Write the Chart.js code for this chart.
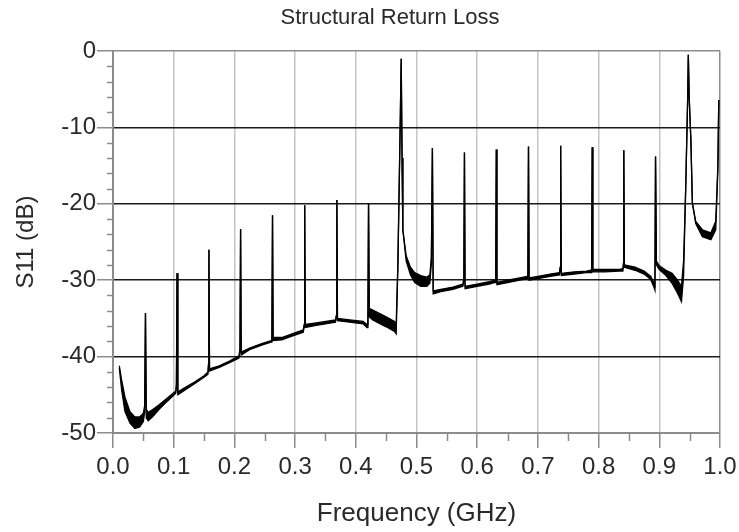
<!DOCTYPE html>
<html>
<head>
<meta charset="utf-8">
<script src="https://cdn.jsdelivr.net/npm/chart.js@4/dist/chart.umd.min.js"></script>
<style>
  html, body { margin: 0; padding: 0; background: #fff; }
  #wrap { width: 739px; height: 532px; }
</style>
</head>
<body>
<div id="wrap"><canvas id="grafico"></canvas></div>
<script>
// frequency (GHz) and the upper / lower edge of the S11 trace (dB)
const freq = [
  0.0104, 0.0143, 0.0197, 0.028, 0.036, 0.044, 0.050, 0.0522, 0.0535, 0.0548,
  0.058, 0.066, 0.076, 0.090, 0.1035, 0.1045, 0.1055, 0.1068, 0.120, 0.135,
  0.150, 0.1565, 0.1572, 0.158, 0.159, 0.175, 0.192, 0.2075, 0.2092, 0.2102,
  0.2112, 0.225, 0.245, 0.2605, 0.2618, 0.2628, 0.2638, 0.278, 0.296, 0.3135,
  0.3148, 0.3158, 0.3168, 0.335, 0.3665, 0.3678, 0.3688, 0.3698, 0.390, 0.412,
  0.4185, 0.4200, 0.4210, 0.4222, 0.428, 0.450, 0.4638, 0.4665, 0.4693, 0.4735,
  0.4748, 0.4762, 0.4775, 0.483, 0.490, 0.497, 0.507, 0.517, 0.522, 0.5245,
  0.5262, 0.5275, 0.540, 0.560, 0.5765, 0.578, 0.579, 0.580, 0.600, 0.620,
  0.6295, 0.6305, 0.6315, 0.6325, 0.650, 0.670, 0.6825, 0.6835, 0.6845, 0.6855,
  0.700, 0.720, 0.7355, 0.7365, 0.7375, 0.7385, 0.760, 0.780, 0.7875, 0.7885,
  0.7895, 0.7905, 0.810, 0.835, 0.8400, 0.8408, 0.8415, 0.8425, 0.860, 0.875,
  0.886, 0.8915, 0.8928, 0.8938, 0.8952, 0.900, 0.911, 0.921, 0.930, 0.9365,
  0.9400, 0.9435, 0.9468, 0.9478, 0.9492, 0.9520, 0.9545, 0.960, 0.971, 0.985,
  0.993, 0.9965, 0.998
];
const s11Upper = [
  -41.2, -43.1, -45.3, -47.2, -47.9, -47.9, -47.4, -46.4, -34.3, -46.9,
  -47.3, -46.9, -46.3, -45.4, -44.5, -43.5, -29.1, -44.6, -44.0, -43.3,
  -42.5, -42.0, -41.0, -26.0, -41.6, -41.2, -40.6, -39.9, -39.0, -23.3,
  -39.4, -38.9, -38.3, -37.9, -37.1, -21.5, -37.5, -37.5, -37.0, -36.5,
  -35.8, -20.2, -35.8, -35.6, -35.2, -34.6, -19.5, -35.0, -35.2, -35.4,
  -35.8, -34.6, -19.9, -33.7, -33.9, -34.8, -35.4, -35.8, -27.8, -8.0,
  -1.0, -14.0, -23.4, -26.8, -28.3, -29.0, -29.4, -29.6, -29.3, -27.0,
  -12.7, -31.4, -31.2, -30.9, -30.5, -29.7, -13.3, -30.8, -30.5, -30.2,
  -30.0, -29.3, -12.9, -30.3, -30.0, -29.7, -29.5, -28.8, -12.5, -29.7,
  -29.5, -29.2, -29.0, -28.3, -12.4, -29.1, -28.9, -28.8, -28.7, -28.0,
  -12.6, -28.6, -28.6, -28.6, -28.5, -27.8, -13.0, -28.0, -28.3, -28.8,
  -29.5, -30.4, -31.0, -13.8, -27.5, -28.1, -28.7, -29.1, -30.0, -30.8,
  -27.5, -18.0, -6.0, -0.5, -6.0, -11.6, -19.9, -22.3, -23.4, -23.8,
  -22.3, -15.0, -6.4
];
const s11Lower = [
  -41.5, -44.4, -47.2, -48.7, -49.4, -49.2, -48.5, -47.2, -34.3, -48.0,
  -48.4, -47.8, -46.9, -45.8, -44.8, -43.8, -29.1, -45.0, -44.3, -43.5,
  -42.7, -42.3, -41.3, -26.0, -41.9, -41.4, -40.8, -40.2, -39.3, -23.3,
  -39.8, -39.1, -38.5, -38.1, -37.4, -21.5, -37.9, -37.8, -37.3, -36.8,
  -36.1, -20.2, -36.2, -35.9, -35.5, -34.9, -19.5, -35.3, -35.5, -35.7,
  -36.2, -35.0, -19.9, -34.8, -35.2, -36.1, -36.7, -37.0, -28.5, -8.0,
  -1.0, -14.0, -23.4, -27.5, -29.3, -30.3, -30.8, -30.8, -30.4, -27.8,
  -12.7, -31.8, -31.5, -31.2, -30.8, -30.0, -13.3, -31.1, -30.8, -30.5,
  -30.3, -29.6, -12.9, -30.6, -30.3, -30.0, -29.8, -29.1, -12.5, -30.0,
  -29.8, -29.5, -29.3, -28.6, -12.4, -29.4, -29.2, -29.0, -29.0, -28.3,
  -12.6, -28.9, -28.9, -28.8, -28.8, -28.1, -13.0, -28.3, -28.7, -29.2,
  -29.9, -31.0, -31.3, -13.8, -28.0, -28.6, -29.4, -30.4, -31.7, -32.8,
  -29.5, -18.0, -6.0, -0.5, -6.0, -11.6, -19.9, -22.6, -24.3, -24.7,
  -23.4, -15.5, -6.4
];

const FONTE = "'Liberation Sans', Arial, sans-serif";
const COR_TEXTO = "#2a2a2a";
const COR_EIXO = "#8c8c8c";

// minor ticks (every 2 dB on y, every 0.05 GHz on x)
const minorTicks = {
  id: "minorTicks",
  afterDraw(chart) {
    const { ctx, chartArea, scales } = chart;
    ctx.save();
    ctx.strokeStyle = COR_EIXO;
    ctx.lineWidth = 1.5;
    ctx.beginPath();
    for (let v = -48; v < 0; v += 2) {
      if (v % 10 === 0) continue;
      const py = Math.round(scales.y.getPixelForValue(v)) + 0.5;
      ctx.moveTo(chartArea.left - 6, py);
      ctx.lineTo(chartArea.left, py);
    }
    for (let i = 0; i < 10; i++) {
      const px = Math.round(scales.x.getPixelForValue(0.05 + i * 0.1)) + 0.5;
      ctx.moveTo(px, chartArea.bottom);
      ctx.lineTo(px, chartArea.bottom + 8);
    }
    ctx.stroke();
    ctx.restore();
  }
};

// the title in the original sits a bit right of the page centre
const deslocaTitulo = {
  id: "deslocaTitulo",
  afterLayout(chart) {
    const t = chart.titleBlock;
    if (!t) return;
    t.left += 30;
    t.right += 30;
  }
};

const pontos = arr => freq.map((f, i) => ({ x: f, y: arr[i] }));

new Chart(document.getElementById("grafico"), {
  type: "line",
  data: {
    datasets: [
      {
        label: "upper",
        data: pontos(s11Upper),
        borderColor: "#000",
        borderWidth: 1.3,
        pointRadius: 0,
        tension: 0,
        fill: false
      },
      {
        label: "lower",
        data: pontos(s11Lower),
        borderColor: "#000",
        backgroundColor: "#000",
        borderWidth: 1.3,
        pointRadius: 0,
        tension: 0,
        fill: "-1"
      }
    ]
  },
  options: {
    responsive: true,
    maintainAspectRatio: false,
    animation: false,
    layout: { padding: { left: 0, right: 19, top: 0, bottom: 0 } },
    plugins: {
      legend: { display: false },
      tooltip: { enabled: false },
      title: {
        display: true,
        text: "Structural Return Loss",
        color: COR_TEXTO,
        font: { family: FONTE, size: 22, weight: "normal" },
        padding: { top: 5, bottom: 19.6 }
      }
    },
    scales: {
      x: {
        type: "linear",
        min: 0,
        max: 1,
        afterFit: s => { s.height = 99; s.paddingLeft = 0; s.paddingRight = 0; },
        ticks: {
          stepSize: 0.1,
          color: COR_TEXTO,
          padding: 5,
          maxRotation: 0,
          font: { family: FONTE, size: 24 },
          callback: v => Number(v).toFixed(1)
        },
        grid: {
          color: c => (c.index === 10 ? COR_EIXO : "#c4c4c4"),
          lineWidth: 1.5,
          tickColor: COR_EIXO,
          tickLength: 15
        },
        border: { color: COR_EIXO, width: 2 },
        title: {
          display: true,
          text: "Frequency (GHz)",
          color: COR_TEXTO,
          font: { family: FONTE, size: 26 },
          padding: { top: 0, bottom: 3 }
        }
      },
      y: {
        min: -50,
        max: 0,
        afterFit: s => { s.width = 113; },
        ticks: {
          stepSize: 10,
          color: COR_TEXTO,
          padding: 1,
          font: { family: FONTE, size: 24 }
        },
        grid: {
          color: c => (c.tick.value === 0 || c.tick.value === -50 ? COR_EIXO : "#1a1a1a"),
          lineWidth: 1.5,
          tickColor: COR_EIXO,
          tickLength: 16
        },
        border: { color: COR_EIXO, width: 2 },
        title: {
          display: true,
          text: "S11 (dB)",
          color: COR_TEXTO,
          font: { family: FONTE, size: 24 },
          padding: { top: 12, bottom: 0 }
        }
      }
    }
  },
  plugins: [minorTicks, deslocaTitulo]
});
</script>
</body>
</html>
